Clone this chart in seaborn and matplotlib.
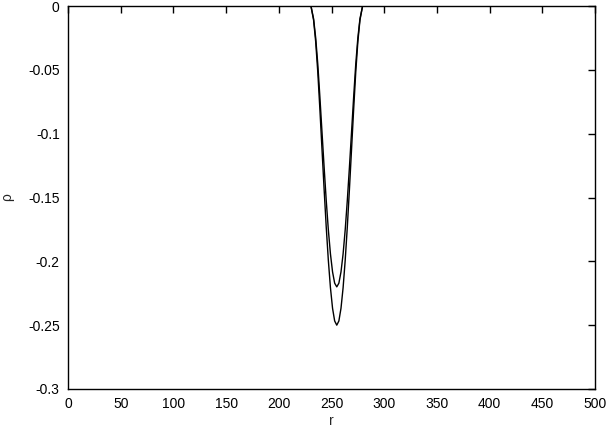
import numpy as np
import pandas as pd
import matplotlib
matplotlib.use("Agg")
import matplotlib.pyplot as plt
import seaborn as sns

# valores (poço em torno de r = 255)
r = [0, 230.5, 233, 235, 237, 239, 241, 243, 245, 247, 249, 251, 253, 255,
     257, 259, 261, 263, 265, 267, 269, 271, 273, 275, 277, 279.5, 500]
rho_1 = [0, 0, -0.0110, -0.0280, -0.0519, -0.0812, -0.1125, -0.1437, -0.1731,
         -0.1992, -0.2207, -0.2368, -0.2467, -0.25,
         -0.2467, -0.2368, -0.2207, -0.1992, -0.1731, -0.1437, -0.1125,
         -0.0812, -0.0519, -0.0280, -0.0110, 0, 0]
rho_2 = [0, 0, -0.0100, -0.0250, -0.0457, -0.0715, -0.0990, -0.1264, -0.1523,
         -0.1753, -0.1942, -0.2083, -0.2171, -0.22,
         -0.2171, -0.2083, -0.1942, -0.1753, -0.1523, -0.1264, -0.0990,
         -0.0715, -0.0457, -0.0250, -0.0100, 0, 0]

x_ticks = [0, 50, 100, 150, 200, 250, 300, 350, 400, 450, 500]
y_ticks = [0, -0.05, -0.1, -0.15, -0.2, -0.25, -0.3]
y_labels = ["0", "-0.05", "-0.1", "-0.15", "-0.2", "-0.25", "-0.3"]

df = pd.DataFrame({"r": r + r,
                   "rho": rho_1 + rho_2,
                   "serie": ["1"] * len(r) + ["2"] * len(r)})

sns.set_style("white")
plt.rcParams['font.family'] = ['Liberation Sans', 'DejaVu Sans']

fig = plt.figure(figsize=(6.07, 4.29), dpi=100)
ax = fig.add_axes([68 / 607, 1 - 389 / 429, (595 - 68) / 607, (389 - 6) / 429])

sns.lineplot(data=df, x="r", y="rho", units="serie", estimator=None,
             color="black", linewidth=1.0, ax=ax, sort=False)

ax.set_xlim(0, 500)
ax.set_ylim(-0.3, 0)
ax.set_xticks(x_ticks)
ax.set_yticks(y_ticks)
ax.set_yticklabels(y_labels)
ax.tick_params(direction="in", length=4.8, width=1, top=True, right=True,
               labelsize=10, pad=6, colors="black")
for s in ax.spines.values():
    s.set_color("black")
    s.set_linewidth(1.0)

ax.set_xlabel("r", fontsize=10)
ax.set_ylabel("ρ", fontsize=10)
ax.xaxis.set_label_coords(0.5, -0.066)
ax.yaxis.set_label_coords(-0.102, 0.5)

fig.savefig("out.png", dpi=100)
